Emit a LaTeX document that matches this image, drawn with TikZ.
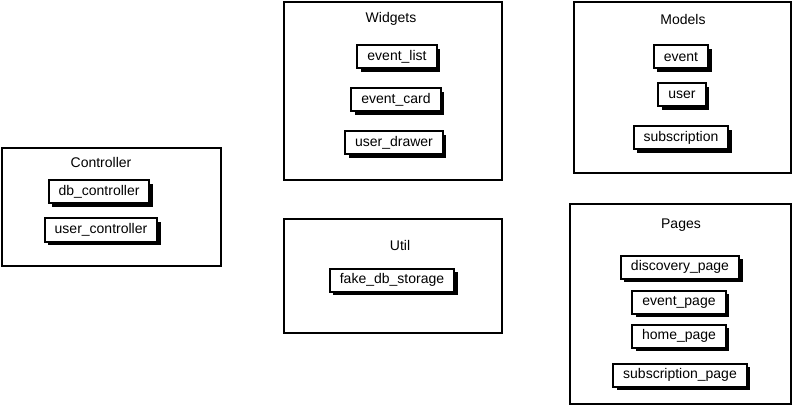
\documentclass[tikz,border=0pt]{standalone}
\usepackage{fontspec}
\setmainfont{Liberation Sans}
\usepackage{tikz}
\usetikzlibrary{positioning, shadows}

\begin{document}
\begin{tikzpicture}[x=1pt, y=-1pt,
    % package frames and the module boxes inside them
    pkg/.style={draw, line width=2pt, fill=white, inner sep=0pt},
    pkgtitle/.style={font=\fontsize{14}{16}\selectfont, inner sep=1pt},
    item/.style={draw, line width=2pt, fill=white, minimum height=23pt, inner xsep=10pt, inner ysep=3pt,
        font=\fontsize{14}{16}\selectfont,
        drop shadow={shadow xshift=3.5pt, shadow yshift=-3.5pt, fill=black, opacity=1}}]

\useasboundingbox (0,0) rectangle (795,406);

% Widgets
\node[pkg, minimum width=218pt, minimum height=178pt] (widgets) at (393,91) {};
\node[pkgtitle] (widgets-title) at (391,19) {Widgets};
\node[item] (w-list) at (397,57) {event\_list};
\node[item] (w-card) at (396,100) {event\_card};
\node[item] (w-drawer) at (394,143) {user\_drawer};

% Models
\node[pkg, minimum width=217pt, minimum height=171pt] (models) at (682.5,87.5) {};
\node[pkgtitle] (models-title) at (683,19) {Models};
\node[item] (m-event) at (681,57) {event};
\node[item] (m-user) at (682,95) {user};
\node[item] (m-sub) at (681,138) {subscription};

% Controller
\node[pkg, minimum width=219pt, minimum height=118pt] (ctrl) at (111.5,207) {};
\node[pkgtitle] (ctrl-title) at (101,162) {Controller};
\node[item] (c-db) at (99,192) {db\_controller};
\node[item] (c-user) at (101,230) {user\_controller};

% Util
\node[pkg, minimum width=218pt, minimum height=114pt] (util) at (393,276) {};
\node[pkgtitle] (util-title) at (400,245) {Util};
\node[item] (u-fake) at (392,280) {fake\_db\_storage};

% Pages
\node[pkg, minimum width=221pt, minimum height=200pt] (pages) at (680.5,304) {};
\node[pkgtitle] (pages-title) at (681,225) {Pages};
\node[item] (p-disc) at (680,267) {discovery\_page};
\node[item] (p-event) at (679,302) {event\_page};
\node[item] (p-home) at (679,336) {home\_page};
\node[item] (p-sub) at (680,375) {subscription\_page};

\end{tikzpicture}
\end{document}
